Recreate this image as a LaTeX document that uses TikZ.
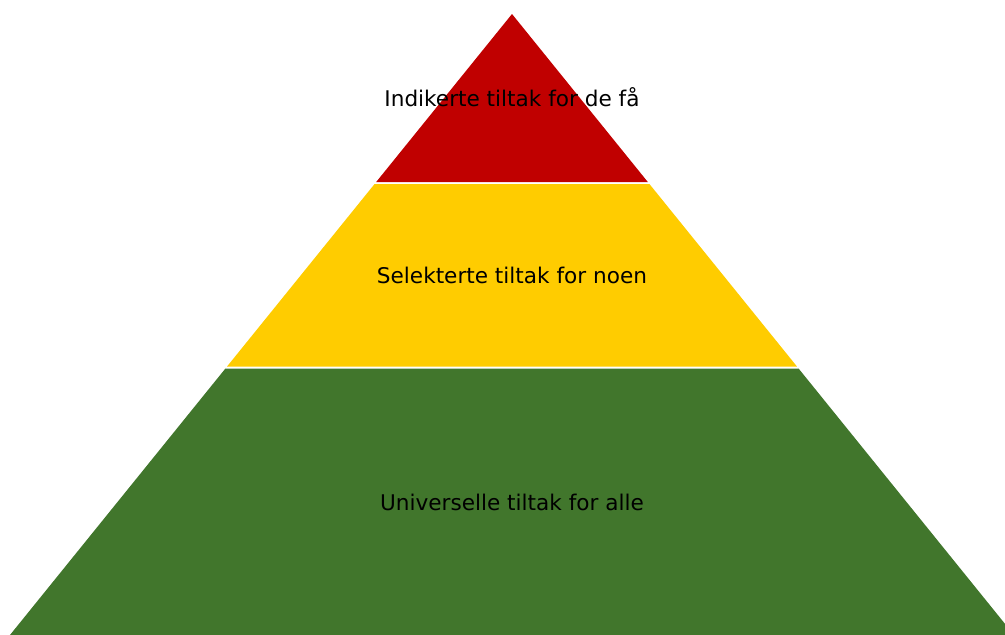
\documentclass[tikz,border=0pt]{standalone}
\usepackage{fontspec}
\setmainfont{DejaVu Sans}
\definecolor{pyrred}{HTML}{C00000}
\definecolor{pyryellow}{HTML}{FFCC00}
\definecolor{pyrgreen}{HTML}{41762C}
\begin{document}
\begin{tikzpicture}[x=1pt,y=-1pt,
  lbl/.style={anchor=base,inner sep=0pt,font=\fontsize{21.6}{26}\selectfont,text=black}]
\useasboundingbox (0,0) rectangle (1005,635);
\clip (0,0) rectangle (1005,635);
% slope: half-width = 0.8084*(y-14)
\fill[pyrred] (512,14) -- ({512-0.8084*168},182) -- ({512+0.8084*168},182) -- cycle;
\fill[pyryellow] ({512-0.8084*170},184) -- ({512+0.8084*170},184) -- ({512+0.8084*352.5},366.5) -- ({512-0.8084*352.5},366.5) -- cycle;
\fill[pyrgreen] ({512-0.8084*354.5},368.5) -- ({512+0.8084*354.5},368.5) -- ({512+0.8084*636},650) -- ({512-0.8084*636},650) -- cycle;
\node[lbl] (top) at (512,106) {Indikerte tiltak for de få};
\node[lbl] (mid) at (512,283.3) {Selekterte tiltak for noen};
\node[lbl] (bot) at (512,510.3) {Universelle tiltak for alle};
\end{tikzpicture}
\end{document}
